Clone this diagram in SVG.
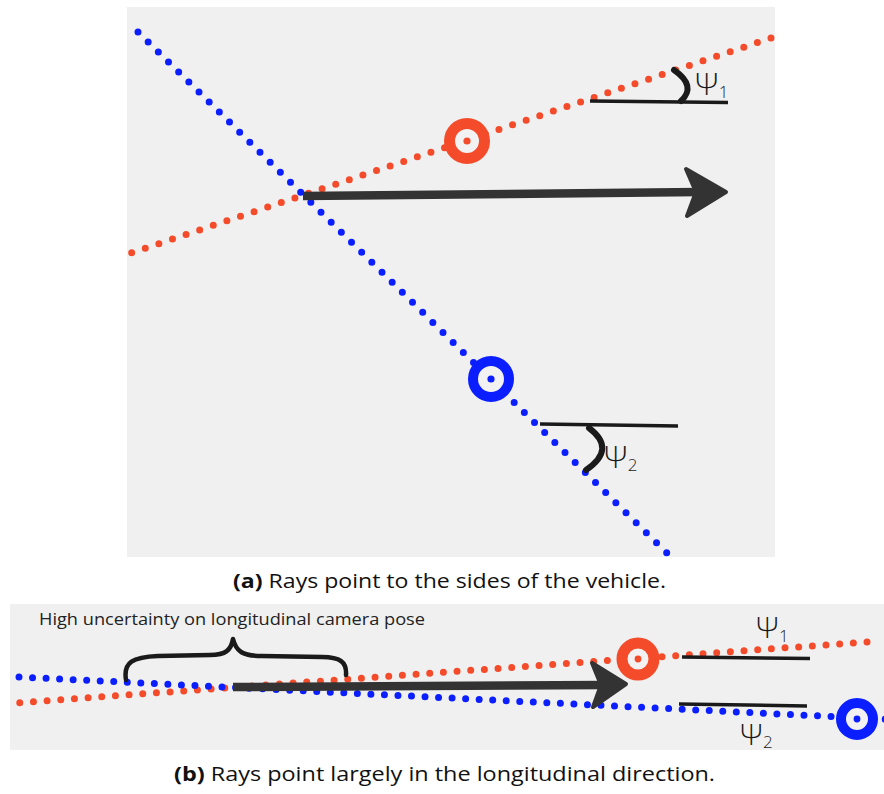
<svg xmlns="http://www.w3.org/2000/svg" width="884" height="794" viewBox="0 0 884 794">
<style>
.panel{fill:#f0f0f0}
.orange{stroke:#f44b2a;stroke-width:7;stroke-linecap:round;fill:none}
.blue{stroke:#0a1eff;stroke-width:7;stroke-linecap:round;fill:none}
.ring-o{fill:#f2f2f2;stroke:#f44b2a}
.ring-b{fill:#f2f2f2;stroke:#0a1eff}
.hline{stroke:#1a1a1a;stroke-width:3.5;fill:none}
.arc{stroke:#1a1a1a;stroke-width:6;stroke-linecap:round;fill:none}
.shaft{stroke:#333;stroke-width:8.5;fill:none}
.head{fill:#333;stroke:#333;stroke-width:4;stroke-linejoin:round}
.psi{font-family:"Open Sans","DejaVu Sans",sans-serif;font-weight:300;fill:#1a1a1a}
.sub{fill:#1a1a1a}
.cap{font-family:"Open Sans","DejaVu Sans",sans-serif;font-size:20px;fill:#111}
</style>
<rect class="panel" x="127" y="7" width="648" height="550"/>
<rect class="panel" x="10" y="604" width="874" height="146"/>

<g id="connectors">
  <!-- panel a rays -->
  <line class="orange" x1="771" y1="38" x2="131" y2="253" stroke-dasharray="0 14.35"/>
  <line class="blue" x1="138" y1="32" x2="668" y2="554" stroke-dasharray="0 14.27"/>
  <!-- panel b rays -->
  <line class="orange" x1="867" y1="642" x2="15" y2="703" stroke-dasharray="0 13.7"/>
  <line class="blue" x1="19" y1="677" x2="890" y2="719.4" stroke-dasharray="0 13.55"/>
  <!-- panel a arrow -->
  <line class="shaft" x1="303" y1="196" x2="700" y2="192"/>
  <polygon class="head" points="686,169 726,192 687,216 696,192"/>
  <!-- panel b arrow -->
  <line class="shaft" x1="233" y1="687" x2="605" y2="685"/>
  <polygon class="head" points="592,663 626,684 593,707 601,685"/>
</g>

<g id="target-a-orange">
  <circle class="ring-o" cx="467" cy="141" r="17.5" stroke-width="11"/>
  <circle cx="467" cy="141" r="3.6" fill="#f44b2a"/>
</g>
<g id="target-a-blue">
  <circle class="ring-b" cx="491" cy="379" r="18" stroke-width="10"/>
  <circle cx="491" cy="379" r="3.6" fill="#0a1eff"/>
</g>
<g id="target-b-orange">
  <circle class="ring-o" cx="638" cy="659" r="16" stroke-width="11"/>
  <circle cx="638" cy="659" r="3.4" fill="#f44b2a"/>
</g>
<g id="target-b-blue">
  <circle class="ring-b" cx="857" cy="719" r="16" stroke-width="10"/>
  <circle cx="857" cy="719" r="3.4" fill="#0a1eff"/>
</g>

<g id="psi1-a">
  <line class="hline" x1="590" y1="101" x2="728" y2="102.5"/>
  <path class="arc" d="M674,70 Q697,86 681,101"/>
  <text class="psi" x="695" y="95" font-size="31">Ψ<tspan class="sub" font-size="17" dy="3">1</tspan></text>
</g>
<g id="psi2-a">
  <line class="hline" x1="540" y1="424" x2="678" y2="426"/>
  <path class="arc" d="M589,428 Q617,449 586,470"/>
  <text class="psi" x="604" y="468" font-size="31">Ψ<tspan class="sub" font-size="17" dy="3">2</tspan></text>
</g>
<g id="psi1-b">
  <line class="hline" x1="682" y1="657" x2="810" y2="658.5"/>
  <text class="psi" x="756" y="638" font-size="30">Ψ<tspan class="sub" font-size="17" dy="4">1</tspan></text>
</g>
<g id="psi2-b">
  <line class="hline" x1="679" y1="704" x2="807" y2="706"/>
  <text class="psi" x="740" y="745" font-size="30">Ψ<tspan class="sub" font-size="17" dy="3">2</tspan></text>
</g>

<g id="brace">
  <path d="M126,680 C123,662 133,657 158,656 L210,655 C226,655 231,650 233,639 C236,651 242,656 262,656 L322,657 C340,657 347,662 346,675" fill="none" stroke="#1a1a1a" stroke-width="4.5" stroke-linecap="round" stroke-linejoin="round"/>
  <text x="39" y="625" font-family="'Open Sans','DejaVu Sans',sans-serif" font-size="16.5" fill="#222" textLength="386" lengthAdjust="spacingAndGlyphs">High uncertainty on longitudinal camera pose</text>
</g>

<g id="caption-a">
  <text class="cap" x="233" y="588" textLength="433" lengthAdjust="spacingAndGlyphs"><tspan font-weight="bold">(a)</tspan> Rays point to the sides of the vehicle.</text>
</g>
<g id="caption-b">
  <text class="cap" x="174" y="781" textLength="541" lengthAdjust="spacingAndGlyphs"><tspan font-weight="bold">(b)</tspan> Rays point largely in the longitudinal direction.</text>
</g>
</svg>
